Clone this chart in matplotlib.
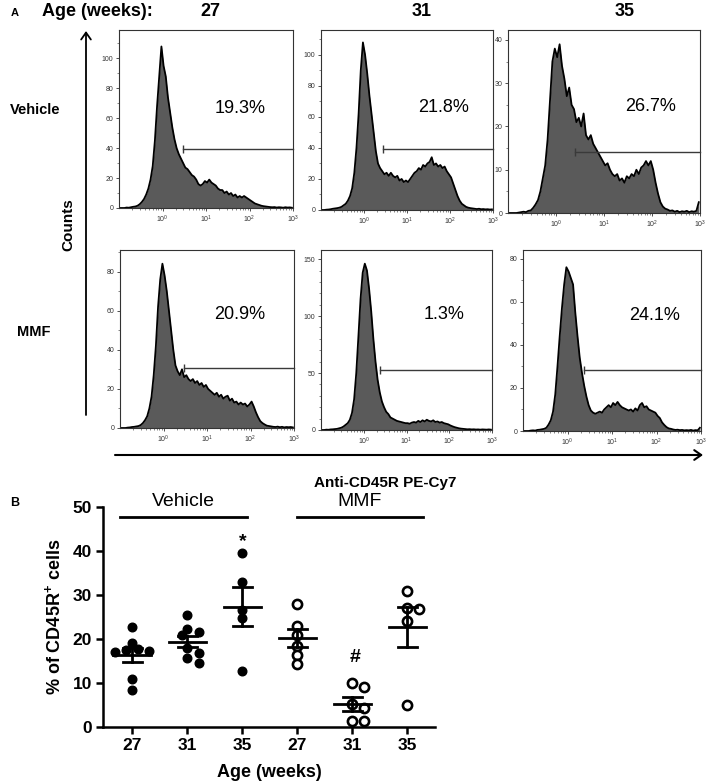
import numpy as np
import matplotlib
matplotlib.use("Agg")
import matplotlib.pyplot as plt
from matplotlib.patches import FancyArrowPatch
from matplotlib.ticker import LogLocator, NullFormatter, AutoMinorLocator

plt.rcParams['font.family'] = ['Liberation Sans', 'DejaVu Sans']
plt.rcParams['mathtext.fontset'] = 'custom'
plt.rcParams['mathtext.rm'] = 'Liberation Sans'
plt.rcParams['mathtext.bf'] = 'Liberation Sans:bold'
plt.rcParams['mathtext.it'] = 'Liberation Sans:italic'

# ---------------- Data: panel A (flow histograms) ----------------
# log10 fluorescence channels (bin centres), 10^-1 .. 10^3
log_bins = np.arange(80) * 0.05 - 0.975

ages = ["27", "31", "35"]
treatments = ["Vehicle", "MMF"]

veh27 = [0, 0, 0, 0.3, 0.2, 0.5, 0.8, 1, 1.5, 2.5, 4, 6, 9, 13, 19, 28, 45, 68, 88, 108,
         95, 88, 74, 64, 54, 46, 40, 36, 33, 30, 27, 26, 24, 22, 21, 19, 16, 15, 16, 18,
         17, 19, 17, 16, 15, 13, 12, 12, 10, 11, 9, 10, 8, 9, 7, 8, 7, 8, 7, 6,
         5, 4, 3, 2.5, 2, 1.5, 1.2, 1, 0.8, 0.6, 0.5, 0.6, 0.3, 0.5, 0.4, 0.2, 0.5, 0.3, 0.4, 0.2]
veh31 = [0, 0, 0.2, 0.3, 0.5, 0.8, 1, 1.2, 1.5, 2, 3, 4, 6, 9, 14, 24, 40, 62, 90, 108,
         100, 88, 74, 62, 50, 38, 30, 27, 25, 23, 24, 22, 24, 22, 21, 22, 19, 20, 18, 19,
         18, 20, 22, 24, 25, 27, 26, 29, 28, 30, 31, 34, 29, 30, 28, 29, 27, 28, 25, 23,
         21, 17, 13, 9, 6, 4, 3, 2, 1.5, 1.2, 1, 0.8, 0.6, 0.8, 0.5, 0.6, 0.4, 0.5, 0.3, 0.4]
veh35 = [0, 0, 0, 0, 0.1, 0.2, 0.3, 0.2, 0.5, 0.6, 1.2, 2, 3, 5, 8, 11, 17, 26, 35, 38,
         36, 39, 34, 31, 27, 29, 25, 24, 21, 22, 20, 23, 18, 17, 18, 16, 15, 14, 13, 12,
         11, 11.5, 10, 9, 8.5, 9, 7.5, 8, 7, 8.5, 8, 9, 8.5, 10, 9, 10.5, 11, 12, 11, 12,
         10, 7, 4.5, 2.5, 1.5, 1, 0.8, 0.5, 0.6, 0.3, 0.5, 0.2, 0.4, 0.3, 0.5, 0.2, 0.4, 0.3, 0.5, 2.5]
mmf27 = [0, 0, 0, 0.2, 0.3, 0.5, 0.6, 0.8, 1, 1.5, 2.5, 4, 6, 10, 16, 27, 42, 62, 76, 84,
         78, 70, 60, 50, 40, 32, 29, 27, 30, 26, 27, 25, 24, 25, 23, 24, 22, 23, 21, 22,
         20, 19, 18, 17, 18, 16, 17, 15, 16, 16.5, 14, 15, 13, 13.5, 12, 13, 12, 12.5, 11, 12,
         13.5, 11, 8, 5.5, 3.5, 2.5, 1.8, 1.2, 1, 0.8, 0.6, 0.5, 0.7, 0.4, 0.6, 0.3, 0.5, 0.4, 0.5, 0.3]
mmf31 = [0, 0, 0.3, 0.2, 0.5, 0.6, 0.8, 1, 1.5, 2, 3, 4.5, 6, 9, 15, 27, 50, 82, 115, 138,
         146, 140, 124, 104, 80, 60, 44, 33, 25, 20, 16, 14, 11, 10, 9, 8, 7.5, 7, 6.5, 6,
         6, 5.5, 6.5, 7, 6.5, 8, 7, 8.5, 7.5, 9, 8, 7.5, 8.5, 7, 7.5, 6.5, 7, 6, 5.5, 5,
         4, 3.2, 2.5, 2, 1.5, 1.2, 1, 0.8, 0.6, 0.7, 0.5, 0.6, 0.4, 0.5, 0.3, 0.5, 0.4, 0.3, 0.5, 0.3]
mmf35 = [0, 0, 0, 0.2, 0.3, 0.2, 0.5, 0.6, 0.8, 1, 1.5, 3, 5, 9, 17, 30, 44, 57, 68, 76,
         74, 71, 68, 55, 44, 34, 27, 21, 16, 12, 9.5, 8.5, 8, 8.5, 9, 8.5, 10, 11, 12, 11,
         13, 12, 13.5, 12, 11, 10.5, 10, 9.5, 10, 9, 10.5, 9.5, 12, 13, 11, 11.5, 10, 9.5, 9, 8.5,
         7, 6, 4, 2.8, 1.8, 1.2, 1, 0.7, 0.5, 0.6, 0.4, 0.5, 0.3, 0.4, 0.3, 0.5, 0.2, 0.4, 0.3, 1.5]

hist_counts = [veh27, veh31, veh35, mmf27, mmf31, mmf35]
percent_labels = ["19.3%", "21.8%", "26.7%", "20.9%", "1.3%", "24.1%"]
gate_start = [2.9, 2.75, 2.45, 3.0, 2.35, 2.3]
gate_level = [39.5, 39.0, 14.1, 30.8, 52.6, 28.2]
y_max = [119, 116, 42.3, 91, 158, 84]
y_ticks = [[0, 20, 40, 60, 80, 100], [0, 20, 40, 60, 80, 100], [0, 10, 20, 30, 40],
           [0, 20, 40, 60, 80], [0, 50, 100, 150], [0, 20, 40, 60, 80]]

# ---------------- Data: panel B (% CD45R+ cells) ----------------
group_ages = ["27", "31", "35", "27", "31", "35"]
vehicle_27 = [22.8, 19.2, 17.8, 17.3, 17.0, 17.5, 10.8, 8.4]
vehicle_31 = [25.5, 21.7, 20.9, 22.2, 18.0, 16.9, 15.6, 14.5]
vehicle_35 = [39.5, 33.0, 26.6, 24.7, 12.8]
mmf_27 = [28.0, 23.0, 20.8, 18.5, 16.4, 14.4]
mmf_31 = [10.1, 9.0, 5.2, 4.3, 1.3, 1.3]
mmf_35 = [30.8, 27.0, 26.8, 24.2, 4.9]
groups = [vehicle_27, vehicle_31, vehicle_35, mmf_27, mmf_31, mmf_35]
filled = [True, True, True, False, False, False]

# ---------------- Figure ----------------
W, H = 709, 784
fig = plt.figure(figsize=(W / 100, H / 100), dpi=100)


def fr(l, t, r, b):
    return [l / W, 1 - b / H, (r - l) / W, (b - t) / H]


hist_boxes = [(119, 30, 293, 208), (321, 30, 493, 210), (508, 30, 700, 213),
              (120, 250, 294, 428), (321, 250, 492, 430), (523, 250, 701, 431)]
pct_pos = [(0.695, 0.56), (0.71, 0.57), (0.745, 0.58), (0.69, 0.64), (0.72, 0.64), (0.74, 0.64)]

x_chan = 10 ** log_bins

for i, box in enumerate(hist_boxes):
    ax = fig.add_axes(fr(*box))
    c = np.array(hist_counts[i], dtype=float)
    ax.fill_between(x_chan, 0, c, color="#5a5a5a", lw=0, zorder=1)
    ax.plot(x_chan, c, color="black", lw=1.3, zorder=2)
    ax.set_xscale("log")
    ax.set_xlim(0.1, 1000)
    ax.set_ylim(0, y_max[i])
    ax.set_xticks([1, 10, 100, 1000])
    ax.set_xticklabels([r"$10^0$", r"$10^1$", r"$10^2$", r"$10^3$"], fontsize=5)
    ax.xaxis.set_minor_locator(LogLocator(base=10, subs=np.arange(2, 10)))
    ax.xaxis.set_minor_formatter(NullFormatter())
    ax.set_yticks(y_ticks[i])
    ax.set_yticklabels([str(v) for v in y_ticks[i]], fontsize=5)
    ax.yaxis.set_minor_locator(AutoMinorLocator(5 if i == 4 else 2))
    ax.tick_params(which="major", direction="out", length=2.5, width=0.6,
                   colors="#333333", pad=1.5)
    ax.tick_params(which="minor", direction="out", length=1.3, width=0.5, colors="#555555")
    for s in ax.spines.values():
        s.set_linewidth(0.8)
        s.set_color("#333333")
    ax.plot([gate_start[i], 1000], [gate_level[i], gate_level[i]], color="#3a3a3a",
            lw=1.0, zorder=3, clip_on=False)
    ax.plot([gate_start[i]], [gate_level[i]], marker="|", ms=6, mew=1.0,
            color="#3a3a3a", zorder=3)
    ax.text(pct_pos[i][0], pct_pos[i][1], percent_labels[i], transform=ax.transAxes,
            ha="center", va="center", fontsize=13)

# header texts (figure pixel coordinates)
def ftxt(x, y, s, **kw):
    fig.text(x / W, 1 - y / H, s, **kw)

ftxt(15, 13, "A", fontsize=8, fontweight="bold", ha="center", va="center")
ftxt(42, 12, "Age (weeks):", fontsize=13, fontweight="bold", ha="left", va="center")
for x, a in zip([210, 422, 625], ages):
    ftxt(x, 12, a, fontsize=13, fontweight="bold", ha="center", va="center")
ftxt(10, 110, treatments[0], fontsize=10.5, fontweight="bold", ha="left", va="center")
ftxt(17, 332, treatments[1], fontsize=10.5, fontweight="bold", ha="left", va="center")
ftxt(68, 225, "Counts", fontsize=11, fontweight="bold", ha="center", va="center",
     rotation=90)
ftxt(385, 483, "Anti-CD45R PE-Cy7", fontsize=11, fontweight="bold", ha="center",
     va="center")
ftxt(15, 503, "B", fontsize=9, fontweight="bold", ha="center", va="center")

# arrows
arr_v = FancyArrowPatch((86 / W, 1 - 415 / H), (86 / W, 1 - 31 / H),
                        transform=fig.transFigure, arrowstyle="->,head_length=5,head_width=3.5",
                        lw=1.3, color="black", shrinkA=0, shrinkB=0)
arr_h = FancyArrowPatch((115 / W, 1 - 455 / H), (703 / W, 1 - 455 / H),
                        transform=fig.transFigure, arrowstyle="->,head_length=5,head_width=3.5",
                        lw=1.5, color="black", shrinkA=0, shrinkB=0)
fig.add_artist(arr_v)
fig.add_artist(arr_h)

# ---------------- Panel B ----------------
axb = fig.add_axes(fr(103, 507, 435, 727))
axb.set_xlim(-0.53, 5.5)
axb.set_ylim(0, 50)
positions = np.arange(len(groups))


def beeswarm(ax, pos, vals, diam_px):
    vals = np.asarray(vals, dtype=float)
    pts = ax.transData.transform(np.column_stack([np.full(len(vals), pos), vals]))
    order = np.argsort(-vals)
    placed = []
    out_x = np.zeros(len(vals))
    step = diam_px * 0.6
    for idx in order:
        x0, y0 = pts[idx]
        for k in [0, 1, -1, 2, -2, 3, -3, 4, -4]:
            xc = x0 + k * step
            if all((xc - px) ** 2 + (y0 - py) ** 2 >= (diam_px * 0.85) ** 2 for px, py in placed):
                break
        placed.append((xc, y0))
        out_x[idx] = xc
    data = ax.transData.inverted().transform(np.column_stack([out_x, pts[:, 1]]))
    return data[:, 0]


for p, vals, f in zip(positions, groups, filled):
    xs = beeswarm(axb, p, vals, 9.5)
    if f:
        axb.plot(xs, vals, "o", ms=6.2, color="black", zorder=3, clip_on=False)
    else:
        axb.plot(xs, vals, "o", ms=6.6, mfc="white", mec="black", mew=1.9,
                 zorder=3, clip_on=False)
    v = np.asarray(vals)
    m = v.mean()
    sem = v.std(ddof=1) / np.sqrt(len(v))
    axb.plot([p - 0.34, p + 0.34], [m, m], color="black", lw=2.0, zorder=4)
    axb.plot([p, p], [m - sem, m + sem], color="black", lw=2.0, zorder=4)
    axb.plot([p - 0.17, p + 0.17], [m + sem, m + sem], color="black", lw=2.0, zorder=4)
    axb.plot([p - 0.17, p + 0.17], [m - sem, m - sem], color="black", lw=2.0, zorder=4)

axb.set_xticks(positions)
axb.set_xticklabels(group_ages)
axb.set_yticks([0, 10, 20, 30, 40, 50])
for lbl in axb.get_xticklabels() + axb.get_yticklabels():
    lbl.set_fontweight("bold")
    lbl.set_fontsize(12.5)
axb.tick_params(direction="out", length=5, width=1.8, pad=3)
axb.spines["top"].set_visible(False)
axb.spines["right"].set_visible(False)
axb.spines["left"].set_linewidth(1.8)
axb.spines["bottom"].set_linewidth(1.8)
axb.set_ylabel(r"% of CD45R$^{\mathbf{+}}$ cells", fontsize=13, fontweight="bold", labelpad=6)
axb.set_xlabel("Age (weeks)", fontsize=13, fontweight="bold", labelpad=8)

# group bars and labels
axb.plot([-0.22, 2.09], [47.7, 47.7], color="black", lw=2.0, clip_on=False)
axb.plot([3.0, 5.29], [47.7, 47.7], color="black", lw=2.0, clip_on=False)
axb.text(0.93, 51.2, treatments[0], fontsize=14, ha="center", va="center", clip_on=False)
axb.text(4.13, 51.2, treatments[1], fontsize=14, ha="center", va="center", clip_on=False)
axb.text(2.0, 42.2, "*", fontsize=14, fontweight="bold", ha="center", va="center")
axb.text(4.05, 15.7, "#", fontsize=14, fontweight="bold", ha="center", va="center")

fig.savefig("out.png", dpi=100)
